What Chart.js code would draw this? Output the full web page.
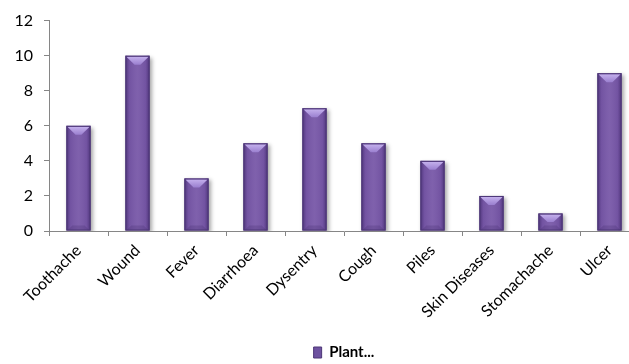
<!DOCTYPE html>
<html>
<head>
<meta charset="utf-8">
<script src="https://cdn.jsdelivr.net/npm/chart.js@4/dist/chart.umd.min.js"></script>
<style>
  html, body { margin: 0; padding: 0; background: #fff; overflow: hidden; }
  #wrap { position: relative; width: 645px; height: 370px; }
</style>
</head>
<body>
<div id="wrap"><canvas id="c"></canvas></div>
<script>
// Number of plants reported per ailment
const categories = ['Toothache', 'Wound', 'Fever', 'Diarrhoea', 'Dysentry', 'Cough', 'Piles', 'Skin Diseases', 'Stomachache', 'Ulcer'];
const plantCounts = [6, 10, 3, 5, 7, 5, 4, 2, 1, 9];
const seriesName = 'Plant...';
const yTicks = [0, 2, 4, 6, 8, 10, 12];

const FONT = 'Lato, "Open Sans", sans-serif';
const AXIS = '#868686';

// Bevelled, shaded look for each bar: drop shadow underneath, edge shading and a light top facet
const barShade = {
  id: 'barShade',
  beforeDatasetDraw(chart) {
    const ctx = chart.ctx;
    ctx.save();
    ctx.shadowColor = 'rgba(0,0,0,0.35)';
    ctx.shadowBlur = 4;
    ctx.shadowOffsetX = 2;
    ctx.shadowOffsetY = 2;
  },
  afterDatasetDraw(chart) {
    const ctx = chart.ctx;
    ctx.restore();
    const meta = chart.getDatasetMeta(0);
    meta.data.forEach(bar => {
      const p = bar.getProps(['x', 'y', 'base', 'width'], true);
      const l = p.x - p.width / 2, r = p.x + p.width / 2;
      const t = p.y, b = p.base;
      ctx.save();
      // horizontal shading: darker at both edges
      const g = ctx.createLinearGradient(l, 0, r, 0);
      g.addColorStop(0, 'rgba(40,20,80,0.5)');
      g.addColorStop(0.16, 'rgba(40,20,80,0.08)');
      g.addColorStop(0.5, 'rgba(255,255,255,0.05)');
      g.addColorStop(0.84, 'rgba(40,20,80,0.08)');
      g.addColorStop(1, 'rgba(40,20,80,0.5)');
      ctx.fillStyle = g;
      ctx.fillRect(l, t, r - l, b - t);
      // top facet
      const d = Math.min(9, (b - t) / 2);
      const inset = (r - l) * 0.38;
      const tg = ctx.createLinearGradient(0, t, 0, t + d);
      tg.addColorStop(0, '#c9b6f0');
      tg.addColorStop(1, '#9a7fcf');
      ctx.fillStyle = tg;
      ctx.beginPath();
      ctx.moveTo(l + 1, t + 1);
      ctx.lineTo(r - 1, t + 1);
      ctx.lineTo(r - inset, t + d);
      ctx.lineTo(l + inset, t + d);
      ctx.closePath();
      ctx.fill();
      // faint bottom facet
      ctx.fillStyle = 'rgba(60,35,100,0.22)';
      ctx.beginPath();
      ctx.moveTo(l + 1, b);
      ctx.lineTo(r - 1, b);
      ctx.lineTo(r - 6, b - 5);
      ctx.lineTo(l + 6, b - 5);
      ctx.closePath();
      ctx.fill();
      ctx.strokeStyle = '#4c3676';
      ctx.lineWidth = 1;
      ctx.strokeRect(l + 0.5, t + 0.5, r - l - 1, b - t - 1);
      ctx.restore();
    });
  }
};

new Chart(document.getElementById('c'), {
  type: 'bar',
  data: {
    labels: categories,
    datasets: [{
      label: seriesName,
      data: plantCounts,
      backgroundColor: '#7858a8',
      borderWidth: 0,
      barPercentage: 0.41,
      categoryPercentage: 1.0
    }]
  },
  options: {
    responsive: true,
    maintainAspectRatio: false,
    animation: false,
    layout: { padding: { top: 18, right: 6, left: 0, bottom: 0 } },
    plugins: {
      tooltip: { enabled: false },
      legend: {
        display: true,
        position: 'bottom',
        fullSize: false,
        labels: {
          boxWidth: 8,
          boxHeight: 11,
          padding: 5,
          color: '#000',
          font: { family: FONT, size: 15, weight: 'bold' },
          generateLabels(chart) {
            return [{
              text: seriesName,
              fillStyle: '#6e52a0',
              strokeStyle: '#4c3676',
              lineWidth: 1,
              datasetIndex: 0
            }];
          }
        }
      }
    },
    scales: {
      x: {
        offset: true,
        grid: {
          offset: true,
          drawOnChartArea: false,
          drawTicks: true,
          tickLength: 5,
          color: AXIS
        },
        border: { color: AXIS, width: 1 },
        ticks: {
          autoSkip: false,
          minRotation: 45,
          maxRotation: 45,
          padding: 5,
          color: '#000',
          font: { family: FONT, size: 16 }
        },
        afterFit(scale) { scale.height = 109; }
      },
      y: {
        min: 0,
        max: 12,
        afterBuildTicks(scale) { scale.ticks = yTicks.map(v => ({ value: v })); },
        grid: {
          drawOnChartArea: false,
          drawTicks: true,
          tickLength: 5,
          color: AXIS
        },
        border: { color: AXIS, width: 1 },
        ticks: {
          padding: 11,
          color: '#000',
          font: { family: FONT, size: 16 }
        },
        afterFit(scale) { scale.width = 49; }
      }
    }
  },
  plugins: [barShade]
});
</script>
</body>
</html>
